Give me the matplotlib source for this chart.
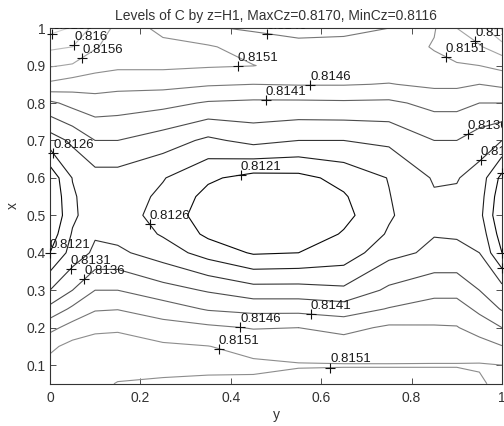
import numpy as np
import matplotlib
matplotlib.use("Agg")
import matplotlib.pyplot as plt
from matplotlib.transforms import offset_copy

plt.rcParams['font.family'] = ['Liberation Sans', 'DejaVu Sans']

# grid of the field (values are C in units of 1e-4 above 0.81)
y_nodes = [0, 0.05, 0.1, 0.15, 0.25, 0.35, 0.45, 0.55, 0.65, 0.75, 0.85, 0.9, 0.95, 1.0]
x_nodes = [0.05, 0.1, 0.15, 0.2, 0.25, 0.3, 0.4, 0.45, 0.5, 0.55, 0.6, 0.7, 0.8, 0.85, 0.9, 0.95, 1.0]

c_y000 = [53.5, 52.5, 50, 44.5, 37.5, 31, 21, 18, 16, 16.5, 17.5, 28.5, 40, 50, 56.5, 62, 68]
c_y005 = [53, 53.5, 52.5, 48, 42, 36, 28, 26.5, 25, 25.3, 26.2, 32, 42.5, 48.5, 55.5, 61, 65.5]
c_y010 = [52, 53, 53, 50, 45.5, 41, 32, 30.5, 29, 29, 29, 36, 44, 48, 53, 56.5, 59.5]
c_y015 = [50.8, 52.5, 52.5, 50.5, 45.8, 41, 32, 29.5, 28.5, 28.7, 29, 36, 43.5, 47.5, 52, 53.5, 54.5]
c_y025 = [50.5, 52, 51.8, 48, 43.5, 38, 28.5, 25.5, 24, 25, 26.3, 33.5, 42.5, 47.5, 52, 52.5, 49.5]
c_y035 = [50.3, 51.8, 51.1, 47, 40.5, 35.5, 24, 20, 18.5, 19.5, 21.8, 30, 40.5, 46.5, 51.5, 51.5, 46.5]
c_y045 = [50.2, 51.8, 49.5, 45.7, 39.5, 33, 20.5, 17, 15.5, 16.8, 19.3, 32.5, 40, 46, 51.1, 49, 45.3]
c_y055 = [49.5, 51.3, 48.8, 46, 39.5, 33, 21, 17.3, 16, 17.3, 19.6, 31, 40, 46.3, 49.5, 47.3, 44.5]
c_y065 = [49.5, 51.2, 48.5, 44.5, 38.5, 32, 23, 21.5, 19.5, 20.5, 22.5, 31, 40.2, 46.3, 49.3, 47, 45.2]
c_y075 = [49.5, 51.2, 48.5, 46.8, 41.3, 37, 29.5, 26.5, 25.5, 25.8, 26.2, 32, 40, 45.8, 49, 48, 46]
c_y085 = [49.5, 51.2, 49, 46.5, 43, 39.5, 32, 30.8, 29.5, 30.5, 31.5, 36, 42.5, 47, 49.5, 51.4, 50.6]
c_y090 = [49.5, 51.2, 49, 46.3, 43, 39.5, 32, 30.6, 29.3, 30.3, 31.3, 36, 42.5, 47, 50.5, 53.5, 56]
c_y095 = [50.5, 51.3, 48.5, 43.5, 40, 36, 31, 29.3, 27.5, 28.2, 29, 33.5, 41, 46, 51, 55.5, 59]
c_y100 = [52, 51, 46.2, 41, 35.5, 33, 21, 18.5, 16.5, 17.5, 19.5, 31, 41, 47, 52.5, 59, 66.5]

levels = [0.8121, 0.8126, 0.8131, 0.8136, 0.8141, 0.8146, 0.8151, 0.8156, 0.8161, 0.8166]
level_text = ['0.8121', '0.8126', '0.8131', '0.8136', '0.8141', '0.8146', '0.8151', '0.8156', '0.816', '0.8166']

# where clabel put its labels: (level, y, x)
label_spots = [
    (0.8166, 0.005, 0.985), (0.8161, 0.044, 0.963), (0.8156, 0.074, 0.917),
    (0.8151, 0.415, 0.905), (0.8146, 0.478, 0.975), (0.8151, 0.873, 0.92),
    (0.8156, 0.949, 0.975), (0.8146, 0.576, 0.848), (0.8141, 0.478, 0.808),
    (0.8136, 0.922, 0.72), (0.8131, 0.944, 0.656), (0.8121, 1.0, 0.616),
    (0.8121, 1.0, 0.40), (0.8126, 1.0, 0.34), (0.8126, 0.011, 0.669),
    (0.8121, 0.42, 0.62), (0.8126, 0.22, 0.475), (0.8121, 0.0, 0.40),
    (0.8131, 0.04, 0.362), (0.8136, 0.07, 0.335), (0.8146, 0.42, 0.19),
    (0.8151, 0.37, 0.135), (0.8141, 0.576, 0.22), (0.8151, 0.62, 0.095),
]

Z = 0.81 + np.column_stack([c_y000, c_y005, c_y010, c_y015, c_y025, c_y035, c_y045,
                            c_y055, c_y065, c_y075, c_y085, c_y090, c_y095, c_y100]) * 1e-4


def snap(path, y0, x0):
    # nearest point of a contour path to (y0, x0)
    best = None
    for poly in path.to_polygons(closed_only=False):
        for a, b in zip(poly[:-1], poly[1:]):
            d = b - a
            t = 0.0 if not d.any() else np.clip(np.dot([y0, x0] - a, d) / np.dot(d, d), 0, 1)
            p = a + t * d
            dist = np.hypot(p[0] - y0, p[1] - x0)
            if best is None or dist < best[0]:
                best = (dist, p)
    return best[1]


fig = plt.figure(figsize=(5.04, 4.26), dpi=100)
ax = fig.add_axes([0.099, 0.099, 0.897, 0.835])

cs = ax.contour(y_nodes, x_nodes, Z, levels=levels, cmap='gray',
                vmin=0.8119, vmax=0.8177, linewidths=0.8)

txt_trans = offset_copy(ax.transData, fig=fig, x=0, y=1.5, units='points')
for lev, y0, x0 in label_spots:
    i = levels.index(lev)
    p = snap(cs.get_paths()[i], y0, x0)
    ax.plot(p[0], p[1], '+', color='#111111', ms=7, mew=0.8, clip_on=False, zorder=3)
    ax.text(p[0], p[1], level_text[i], transform=txt_trans, ha='left', va='bottom',
            fontsize=9.5, color='#1a1a1a', clip_on=True, zorder=3)

ax.set_xlim(0, 1)
ax.set_ylim(0.05, 1)
ax.set_xticks([0, 0.2, 0.4, 0.6, 0.8, 1])
ax.set_xticklabels(['0', '0.2', '0.4', '0.6', '0.8', '1'])
ax.set_yticks([0.1, 0.2, 0.3, 0.4, 0.5, 0.6, 0.7, 0.8, 0.9, 1])
ax.set_yticklabels(['0.1', '0.2', '0.3', '0.4', '0.5', '0.6', '0.7', '0.8', '0.9', '1'])
ax.tick_params(direction='in', top=True, right=True, length=4, width=0.6,
               colors='#333333', labelsize=10)
ax.tick_params(axis='x', pad=5)
ax.tick_params(axis='y', pad=3)
for s in ax.spines.values():
    s.set_color('#333333')
    s.set_linewidth(0.8)

ax.set_xlabel('y', fontsize=10, color='#333333', labelpad=2)
ax.set_ylabel('x', fontsize=10, color='#333333', labelpad=5)
ax.set_title('Levels of C by z=H1, MaxCz=0.8170, MinCz=0.8116', fontsize=10,
             color='#333333', pad=6)

fig.savefig('out.png', dpi=100)
